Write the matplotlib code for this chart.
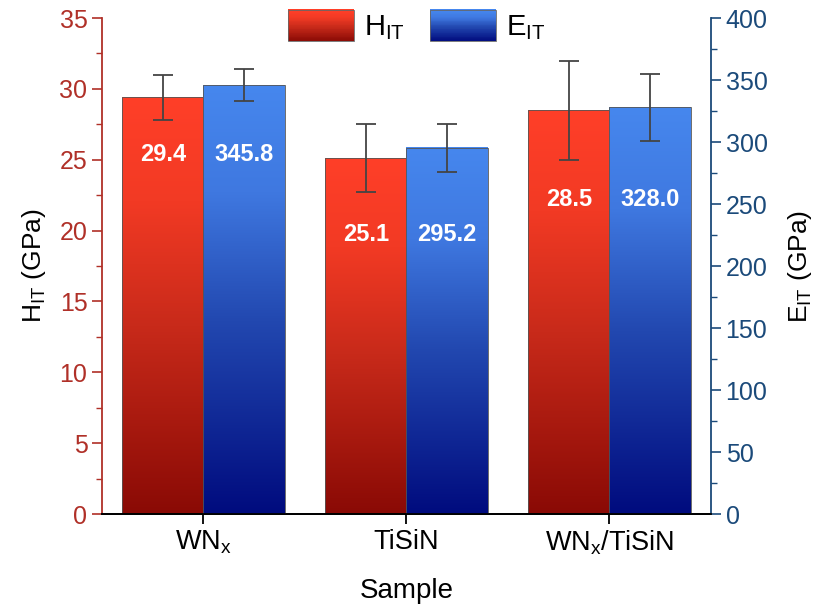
import numpy as np
import matplotlib
matplotlib.use('Agg')
import matplotlib.pyplot as plt
from matplotlib.colors import LinearSegmentedColormap
from matplotlib.legend_handler import HandlerBase
from matplotlib.patches import Rectangle
from matplotlib.ticker import MultipleLocator

plt.rcParams['font.family'] = ['Liberation Sans', 'DejaVu Sans']
plt.rcParams['mathtext.fontset'] = 'custom'
plt.rcParams['mathtext.rm'] = 'Liberation Sans'
plt.rcParams['mathtext.it'] = 'Liberation Sans:italic'
plt.rcParams['mathtext.bf'] = 'Liberation Sans:bold'

samples = [r'WN$_\mathregular{x}$', 'TiSiN', r'WN$_\mathregular{x}$/TiSiN']
hardness = [29.4, 25.1, 28.5]
hardness_err = [1.6, 2.4, 3.5]
modulus = [345.8, 295.2, 328.0]
modulus_err = [13, 19, 27]

# where the value text sits inside each pair of bars (GPa, left axis)
label_y = [25.4, 19.7, 22.2]

red = '#b03028'
navy = '#1b4a7a'
red_cmap = LinearSegmentedColormap.from_list(
    'hit', [(0, '#8a0a05'), (0.45, '#c82a1a'), (0.75, '#f23a24'), (1, '#ff3f28')])
blue_cmap = LinearSegmentedColormap.from_list(
    'eit', [(0, '#000b7e'), (0.45, '#2248b0'), (0.75, '#3f78e0'), (1, '#4687ee')])


def gradient_fill(ax, bars, cmap):
    grad = np.linspace(0, 1, 256).reshape(-1, 1)
    for bar in bars:
        x, y = bar.get_xy()
        w, h = bar.get_width(), bar.get_height()
        bar.set_facecolor('none')
        ax.imshow(grad, extent=[x, x + w, y, y + h], origin='lower',
                  cmap=cmap, aspect='auto', zorder=1.5, interpolation='bilinear')


class GradientHandler(HandlerBase):
    def __init__(self, cmap):
        super().__init__()
        self.cmap = cmap

    def create_artists(self, legend, orig_handle, xdescent, ydescent,
                       width, height, fontsize, trans):
        n = 40
        artists = []
        for i in range(n):
            r = Rectangle((-xdescent, -ydescent + height * i / n), width, height / n + 0.3,
                          facecolor=self.cmap(i / (n - 1)), edgecolor='none', transform=trans)
            artists.append(r)
        artists.append(Rectangle((-xdescent, -ydescent), width, height, facecolor='none',
                                 edgecolor='#666666', lw=0.6, transform=trans))
        return artists


fig = plt.figure(figsize=(8.24, 6.08), dpi=100)
ax = fig.add_axes([102 / 824, 94 / 608, 609 / 824, 496 / 608])
ax2 = ax.twinx()

x = np.arange(len(samples))
w = 0.4
err_kw = dict(ecolor='#444444', elinewidth=1.3, capsize=7, capthick=1.3)

b1 = ax.bar(x - w / 2, hardness, w, yerr=hardness_err, edgecolor='#555555', lw=0.6,
            error_kw=err_kw, zorder=2)
b2 = ax2.bar(x + w / 2, modulus, w, yerr=modulus_err, edgecolor='#555555', lw=0.6,
             error_kw=err_kw, zorder=2)
gradient_fill(ax, b1, red_cmap)
gradient_fill(ax2, b2, blue_cmap)

for i in range(len(samples)):
    ax.text(x[i] - w / 2, label_y[i], f'{hardness[i]:.1f}', color='white', fontsize=17,
            fontweight='bold', ha='center', va='center', zorder=5)
    ax2.text(x[i] + w / 2, label_y[i] * 400 / 35, f'{modulus[i]:.1f}', color='white',
             fontsize=17, fontweight='bold', ha='center', va='center', zorder=5)

ax.set_xlim(-0.5, 2.5)
ax.set_ylim(0, 35)
ax2.set_ylim(0, 400)
ax.set_xticks(x)
ax.set_xticklabels(samples, fontsize=19.5)
ax.set_xlabel('Sample', fontsize=20, labelpad=15)

ax.yaxis.set_major_locator(MultipleLocator(5))
ax.yaxis.set_minor_locator(MultipleLocator(2.5))
ax2.yaxis.set_major_locator(MultipleLocator(50))
ax2.yaxis.set_minor_locator(MultipleLocator(25))

ax.set_ylabel(r'H$_\mathregular{IT}$ (GPa)', fontsize=19, labelpad=8)
ax2.set_ylabel(r'E$_\mathregular{IT}$ (GPa)', fontsize=19, labelpad=13)

for a in (ax, ax2):
    a.spines['top'].set_visible(False)
ax.spines['left'].set_color(red)
ax.spines['right'].set_visible(False)
ax2.spines['left'].set_visible(False)
ax2.spines['right'].set_color(navy)
for a in (ax, ax2):
    a.spines['left'].set_linewidth(1.3)
    a.spines['right'].set_linewidth(1.3)
    a.spines['bottom'].set_linewidth(1.3)

ax.tick_params(axis='y', which='major', colors=red, labelsize=18, length=7, width=1.2)
ax.tick_params(axis='y', which='minor', colors=red, length=4, width=1.0)
ax.tick_params(axis='x', which='major', length=7, width=1.3)
ax2.tick_params(axis='y', which='major', colors=navy, labelsize=18, length=7, width=1.2)
ax2.tick_params(axis='y', which='minor', colors=navy, length=4, width=1.0)

h_patch = Rectangle((0, 0), 1, 1)
e_patch = Rectangle((0, 0), 1, 1)
ax.legend([h_patch, e_patch], [r'H$_\mathregular{IT}$', r'E$_\mathregular{IT}$'],
          handler_map={h_patch: GradientHandler(red_cmap), e_patch: GradientHandler(blue_cmap)},
          loc='upper center', bbox_to_anchor=(0.517, 1.07), ncol=2, frameon=False,
          fontsize=21, handlelength=2.25, handleheight=1.3, handletextpad=0.35,
          columnspacing=0.85)

fig.savefig('out.png', dpi=100)
